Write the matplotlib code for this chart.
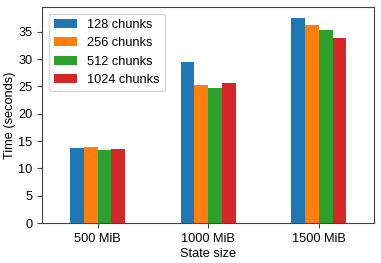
import matplotlib
matplotlib.use("Agg")
import matplotlib.pyplot as plt
import numpy as np

plt.rcParams['font.family'] = ['Liberation Sans', 'DejaVu Sans']
plt.rcParams['font.size'] = 9.2

categories = ["500 MiB", "1000 MiB", "1500 MiB"]
series_names = ["128 chunks", "256 chunks", "512 chunks", "1024 chunks"]
v128 = [13.8, 29.5, 37.6]
v256 = [13.9, 25.3, 36.2]
v512 = [13.3, 24.8, 35.4]
v1024 = [13.5, 25.7, 33.9]
values = [v128, v256, v512, v1024]
colors = ["#1f77b4", "#ff7f0e", "#2ca02c", "#d62728"]

fig = plt.figure(figsize=(3.81, 2.63), dpi=100)
ax = fig.add_axes([0.111, 0.152, 0.871, 0.820])
x = np.arange(len(categories))
w = 0.125
for i, (name, vals) in enumerate(zip(series_names, values)):
    ax.bar(x + (i - 1.5) * w, vals, w, label=name, color=colors[i])
ax.set_xticks(x)
ax.set_xticklabels(categories)
ax.set_xlim(-0.5, 2.5)
ax.set_xlabel("State size", labelpad=2)
ax.set_ylabel("Time (seconds)", labelpad=2)
ax.set_yticks(np.arange(0, 40, 5))
for s in ax.spines.values():
    s.set_color("#444444")
ax.tick_params(color="#444444")
ax.legend(loc="upper left", handlelength=1.8)
fig.savefig("out.png", dpi=100)
